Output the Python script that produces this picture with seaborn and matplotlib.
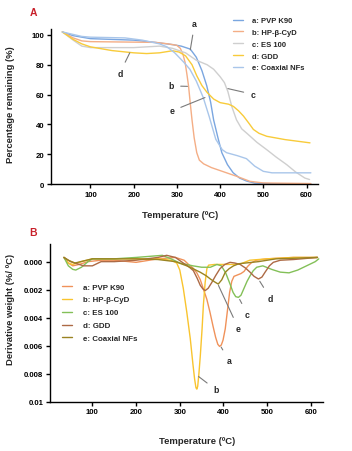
import numpy as np
import pandas as pd
import matplotlib
matplotlib.use("Agg")
import matplotlib.pyplot as plt
import seaborn as sns

# ---- Panel A: TGA curves (percentage remaining) ----
tga_labels = ["a: PVP K90", "b: HP-\u03b2-CyD", "c: ES 100", "d: GDD", "e: Coaxial NFs"]
tga_colors = ["#7aa6e0", "#f4ae86", "#cfcfcf", "#f8cb3a", "#a9c6ea"]

tga_a_t = [35, 60, 100, 150, 200, 250, 290, 310, 331, 345, 358, 369, 378, 385, 395, 404, 417, 430, 445, 461, 480, 520, 610]
tga_a_w = [102, 99.5, 97.5, 97, 96.5, 95, 93.5, 92.5, 90.5, 85, 76, 66, 55, 43, 31, 21, 13, 7.6, 4, 2, 0.6, 0.2, 0]

tga_b_t = [35, 60, 80, 100, 250, 280, 300, 308, 314, 319, 323, 327, 331, 335, 340, 346, 352, 362, 380, 400, 415, 440, 469, 500, 610]
tga_b_w = [102, 98, 96, 95.5, 95, 94, 93, 91, 87, 81.6, 74, 65.8, 54, 43, 31, 21, 16, 13.5, 11, 9, 7.5, 5, 1.8, 0.7, 0.3]

tga_c_t = [35, 60, 80, 100, 200, 260, 290, 320, 345, 370, 385, 400, 410, 418, 427, 438, 450, 462, 485, 508, 530, 554, 575, 596, 607]
tga_c_w = [102, 96.5, 92.5, 91.5, 91.5, 92.5, 91, 88, 83, 80, 77, 72, 68, 62, 52, 43, 37, 34, 28, 23, 18, 13, 8, 4, 3]

tga_d_t = [35, 60, 80, 100, 150, 200, 230, 260, 290, 305, 320, 335, 346, 358, 370, 385, 400, 420, 431, 443, 454, 466, 477, 490, 508, 550, 608]
tga_d_w = [102, 97, 94, 92, 89.5, 88, 87.5, 88, 89.4, 88.5, 86, 80, 72.6, 66, 61.4, 57, 54.6, 53.5, 52, 49, 45.6, 41, 36.6, 34, 32, 29.8, 27.6]

tga_e_t = [35, 80, 100, 180, 220, 260, 277, 295, 315, 330, 345, 361, 375, 390, 405, 415, 440, 461, 480, 500, 520, 610]
tga_e_w = [102, 99, 98.5, 98, 96.5, 94, 92, 88, 82, 77, 69, 58, 45, 30, 23, 21, 19, 17, 12, 8.5, 7.5, 7.5]

# ---- Panel B: DTG curves (derivative weight, in 0.001 %/C) ----
dtg_labels = ["a: PVP K90", "b: HP-\u03b2-CyD", "c: ES 100", "d: GDD", "e: Coaxial NFs"]
dtg_colors = ["#f0925a", "#f9c42e", "#83c058", "#ad6a45", "#9a8322"]

dtg_a_t = [35, 45, 55, 70, 90, 120, 150, 200, 250, 290, 310, 320, 330, 339, 347, 354, 362, 369, 376, 382, 387, 391, 395, 399, 404, 409, 414, 419, 424, 432, 440, 447, 455, 463, 475, 500, 560, 615]
dtg_a_v = [-0.3, 0.1, 0.3, 0.2, 0.0, -0.1, -0.1, 0.05, -0.2, -0.3, -0.1, 0.2, 0.45, 0.8, 1.3, 1.95, 2.7, 3.6, 4.6, 5.4, 5.9, 6.05, 5.95, 5.6, 4.8, 3.5, 2.2, 1.4, 1.05, 0.95, 0.85, 0.7, 0.35, 0.1, -0.1, -0.2, -0.3, -0.3]

dtg_b_t = [35, 45, 55, 75, 100, 150, 200, 250, 280, 293, 300, 308, 316, 324, 330, 334, 337, 339, 341, 344, 347, 351, 354, 358, 362, 366, 380, 420, 440, 460, 500, 560, 615]
dtg_b_v = [-0.3, 0.1, 0.2, 0.0, -0.2, -0.2, -0.2, -0.2, -0.1, 0.1, 0.6, 1.9, 3.6, 5.5, 7.3, 8.4, 9.0, 9.1, 8.9, 7.9, 6.7, 4.8, 3.1, 1.5, 0.5, 0.25, 0.2, 0.2, 0.15, -0.1, -0.2, -0.3, -0.3]

dtg_c_t = [35, 45, 55, 62, 75, 90, 100, 150, 200, 240, 260, 280, 300, 330, 350, 370, 385, 395, 405, 415, 422, 428, 434, 440, 447, 454, 461, 468, 476, 490, 510, 530, 550, 570, 590, 610, 618]
dtg_c_v = [-0.3, 0.3, 0.55, 0.6, 0.4, 0.0, -0.2, -0.2, -0.3, -0.4, -0.45, -0.2, 0.1, 0.3, 0.4, 0.4, 0.2, 0.3, 0.8, 1.6, 2.2, 2.5, 2.55, 2.4, 1.9, 1.4, 1.0, 0.65, 0.4, 0.3, 0.55, 0.75, 0.8, 0.6, 0.3, 0.0, -0.2]

dtg_d_t = [35, 50, 65, 80, 100, 120, 150, 200, 250, 270, 290, 308, 320, 331, 340, 347, 353, 358, 365, 373, 382, 392, 403, 415, 426, 438, 450, 461, 470, 480, 488, 495, 505, 514, 530, 560, 615]
dtg_d_v = [-0.3, 0.0, 0.15, 0.3, 0.3, 0.0, 0.0, -0.1, -0.3, -0.45, -0.3, 0.1, 0.35, 0.64, 1.2, 1.7, 1.95, 2.07, 1.9, 1.5, 1.0, 0.5, 0.2, 0.05, 0.1, 0.2, 0.45, 0.76, 1.05, 1.24, 1.1, 0.76, 0.3, 0.05, -0.1, -0.15, -0.3]

dtg_e_t = [35, 45, 60, 100, 150, 200, 250, 290, 316, 330, 347, 360, 370, 380, 388, 396, 404, 413, 423, 435, 450, 480, 520, 570, 615]
dtg_e_v = [-0.3, -0.1, 0.1, -0.2, -0.2, -0.2, -0.15, 0.0, 0.3, 0.5, 0.76, 1.0, 1.24, 1.45, 1.6, 1.3, 0.76, 0.5, 0.3, 0.15, 0.1, 0.0, -0.2, -0.25, -0.3]

x_ticks = [100, 200, 300, 400, 500, 600]
tga_yticks = [0, 20, 40, 60, 80, 100]
dtg_yticks = [0.0, 0.002, 0.004, 0.006, 0.008, 0.01]
dtg_yticklabels = ["0.000", "0.002", "0.004", "0.006", "0.008", "0.01"]

sns.set_style("ticks")
plt.rcParams["font.family"] = ["Liberation Sans", "DejaVu Sans"]
plt.rcParams["font.weight"] = "bold"

fig = plt.figure(figsize=(3.52, 4.52), dpi=100)
fig.patch.set_facecolor("white")
axA = fig.add_axes([0.144, 0.5907, 0.760, 0.343])
axB = fig.add_axes([0.142, 0.109, 0.776, 0.349])

# panel A
tga_t = [tga_a_t, tga_b_t, tga_c_t, tga_d_t, tga_e_t]
tga_w = [tga_a_w, tga_b_w, tga_c_w, tga_d_w, tga_e_w]
for t, w, lab, col in zip(tga_t, tga_w, tga_labels, tga_colors):
    df = pd.DataFrame({"T": t, "W": w})
    sns.lineplot(data=df, x="T", y="W", ax=axA, color=col, lw=1.0, label=lab,
                 sort=False, estimator=None)

axA.set_xlim(8, 627)
axA.set_ylim(0, 104)
axA.set_xticks(x_ticks)
axA.set_yticks(tga_yticks)
axA.set_xlabel("Temperature (\u00baC)", fontsize=6.8, fontweight="bold")
axA.set_ylabel("Percentage remaining (%)", fontsize=6.8, fontweight="bold")
axA.xaxis.set_label_coords(0.482, -0.169)
axA.yaxis.set_label_coords(-0.133, 0.52)

# panel B
dtg_t = [dtg_a_t, dtg_b_t, dtg_c_t, dtg_d_t, dtg_e_t]
dtg_v = [dtg_a_v, dtg_b_v, dtg_c_v, dtg_d_v, dtg_e_v]
for t, v, lab, col in zip(dtg_t, dtg_v, dtg_labels, dtg_colors):
    df = pd.DataFrame({"T": t, "D": np.array(v) * 1e-3})
    sns.lineplot(data=df, x="T", y="D", ax=axB, color=col, lw=1.0, label=lab,
                 sort=False, estimator=None)

axB.set_xlim(3, 628)
axB.set_ylim(0.01, -0.00126)
axB.set_xticks(x_ticks)
axB.set_yticks(dtg_yticks)
axB.set_yticklabels(dtg_yticklabels)
axB.set_xlabel("Temperature (\u00baC)", fontsize=6.8, fontweight="bold")
axB.set_ylabel("Derivative weight (%/ \u00baC)", fontsize=6.8, fontweight="bold")
axB.xaxis.set_label_coords(0.537, -0.2175)
axB.yaxis.set_label_coords(-0.128, 0.59)

for ax in (axA, axB):
    sns.despine(ax=ax)
    ax.set_facecolor("none")
    for s in ("left", "bottom"):
        ax.spines[s].set_linewidth(1.0)
        ax.spines[s].set_color("black")
    ax.tick_params(axis="both", length=2.8, width=1.0, pad=2, labelsize=5.6, colors="black")
    for lbl in ax.get_xticklabels() + ax.get_yticklabels():
        lbl.set_fontweight("bold")

# legends
legA = axA.legend(loc="upper left", bbox_to_anchor=(233 / 352, 1 - 18 / 452),
                  bbox_transform=fig.transFigure, frameon=False, fontsize=5.5,
                  handlelength=1.3, handletextpad=1.2, labelspacing=0.58,
                  borderpad=0, borderaxespad=0)
legB = axB.legend(loc="upper left", bbox_to_anchor=(62 / 352, 1 - 284 / 452),
                  bbox_transform=fig.transFigure, frameon=False, fontsize=5.7,
                  handlelength=1.3, handletextpad=1.3, labelspacing=0.68,
                  borderpad=0, borderaxespad=0)
for leg in (legA, legB):
    for txt in leg.get_texts():
        txt.set_fontweight("bold")

# callout labels
ann_kw = dict(fontsize=6.3, fontweight="bold", ha="center", va="center",
              annotation_clip=False,
              arrowprops=dict(arrowstyle="-", color="#7a7a7a", lw=0.8, shrinkA=2.5, shrinkB=0))
axA.annotate("a", xy=(331, 90), xytext=(341, 107.4), **ann_kw)
axA.annotate("b", xy=(324.5, 65.5), xytext=(287, 65.8), **ann_kw)
axA.annotate("c", xy=(418, 64), xytext=(475.5, 60.2), **ann_kw)
axA.annotate("d", xy=(191, 88), xytext=(168, 74.4), **ann_kw)
axA.annotate("e", xy=(365, 58), xytext=(288.5, 49), **ann_kw)

axB.annotate("a", xy=(394.6, 0.0061), xytext=(413, 0.00707), **ann_kw)
axB.annotate("b", xy=(343, 0.0082), xytext=(382.5, 0.00914), **ann_kw)
axB.annotate("c", xy=(437, 0.0027), xytext=(455, 0.00376), **ann_kw)
axB.annotate("d", xy=(483, 0.0014), xytext=(507, 0.0026), **ann_kw)
axB.annotate("e", xy=(388.5, 0.0017), xytext=(434, 0.00476), **ann_kw)

# panel letters
fig.text(33 / 352, 1 - 12.7 / 452, "A", color="#c8202a", fontsize=7.5,
         fontweight="bold", ha="center", va="center")
fig.text(33 / 352, 1 - 232.7 / 452, "B", color="#c8202a", fontsize=7.5,
         fontweight="bold", ha="center", va="center")

fig.savefig("out.png", dpi=100, facecolor="white")
